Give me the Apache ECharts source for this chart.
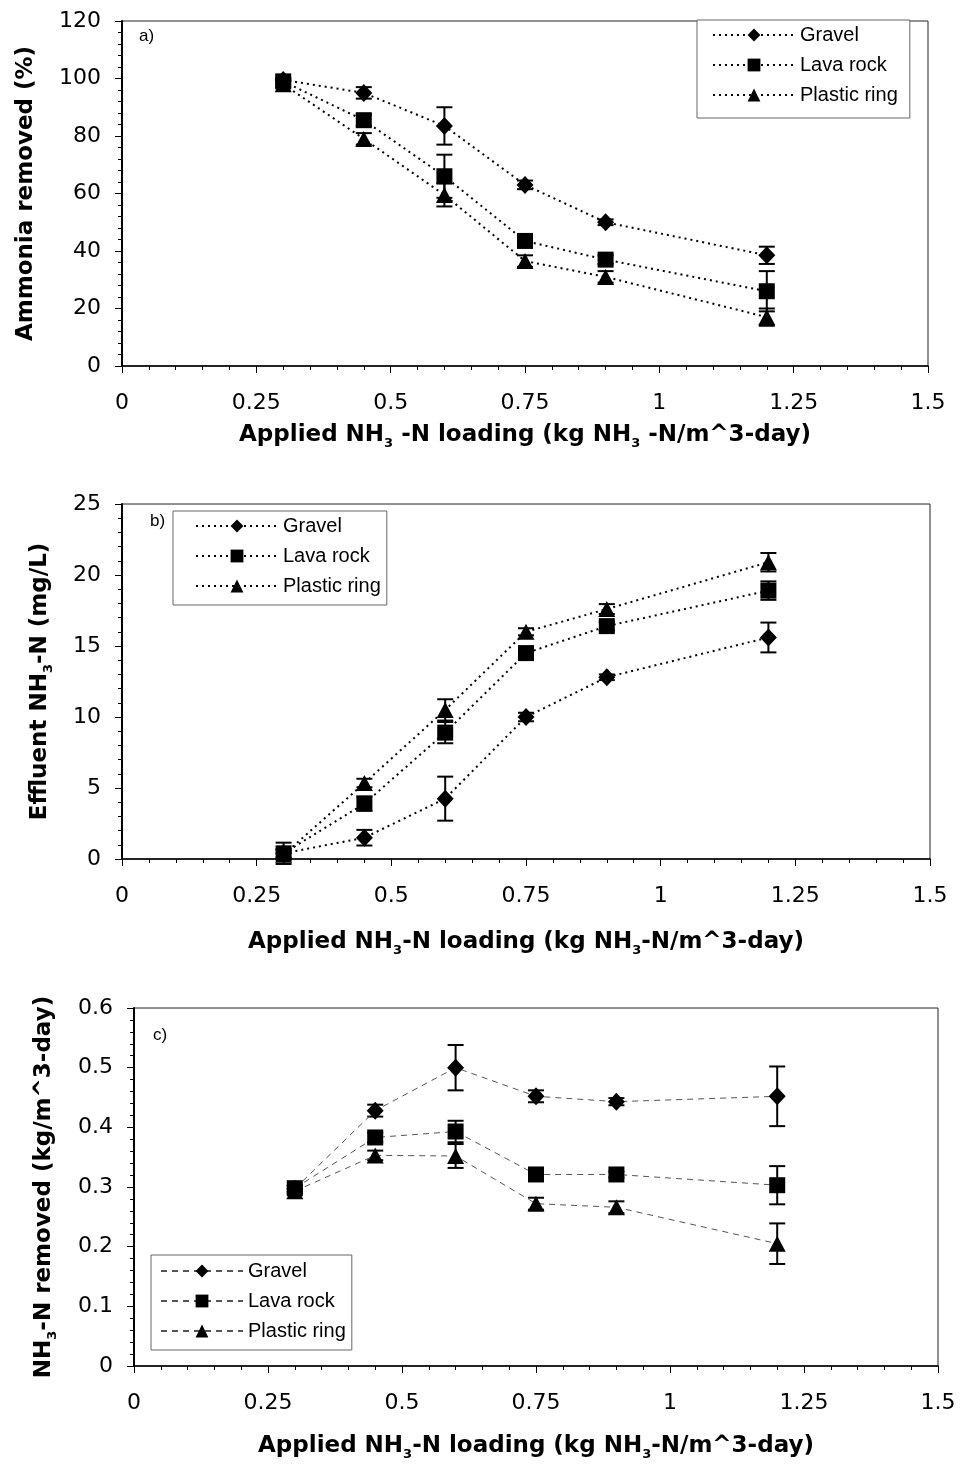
<!DOCTYPE html>
<html><head><meta charset="utf-8">
<script src="https://cdn.jsdelivr.net/npm/echarts@6/dist/echarts.min.js"></script>
<style>html,body{margin:0;padding:0;background:#fff}#c{width:962px;height:1466px}</style>
</head><body><div id="c"></div>
<script>
// ---------- data ----------
const loading = [0.3, 0.45, 0.6, 0.75, 0.9, 1.2];
const materials = ['Gravel', 'Lava rock', 'Plastic ring'];
const xTicks = [0, 0.25, 0.5, 0.75, 1, 1.25, 1.5];

// a) Ammonia removed (%)
const amRemGravel = [99.5, 95, 83.5, 63, 50, 38.5];
const amRemGravelErr = [0.5, 2, 6.5, 1.5, 1, 3];
const amRemLava = [99, 85.5, 66, 43.5, 37, 26];
const amRemLavaErr = [1, 2, 7.5, 1.5, 1.5, 7];
const amRemPlastic = [98, 79, 59.5, 36.5, 31, 17];
const amRemPlasticErr = [1, 2, 4, 2, 2, 3];

// b) Effluent NH3-N (mg/L)
const effGravel = [0.4, 1.5, 4.25, 10, 12.8, 15.6];
const effGravelErr = [0.3, 0.55, 1.55, 0.3, 0.2, 1.05];
const effLava = [0.4, 3.9, 8.9, 14.5, 16.4, 18.9];
const effLavaErr = [0.75, 0.5, 0.75, 0.3, 0.3, 0.65];
const effPlastic = [0.3, 5.35, 10.5, 16, 17.6, 20.9];
const effPlasticErr = [0.3, 0.3, 0.75, 0.25, 0.35, 0.65];

// c) NH3-N removed (kg/m^3-day)
const remGravel = [0.297, 0.428, 0.5, 0.452, 0.443, 0.452];
const remGravelErr = [0.005, 0.01, 0.038, 0.01, 0.006, 0.05];
const remLava = [0.298, 0.383, 0.393, 0.321, 0.321, 0.303];
const remLavaErr = [0.005, 0.008, 0.018, 0.005, 0.005, 0.032];
const remPlastic = [0.293, 0.353, 0.352, 0.272, 0.266, 0.205];
const remPlasticErr = [0.004, 0.008, 0.02, 0.01, 0.01, 0.034];

// ---------- layout / style ----------
const symbols = ['diamond', 'rect', 'triangle'];
const symSizes = [[17, 18], 16, [17, 16]];
const panels = [
  { key: 'a', label: 'a)', vals: [amRemGravel, amRemLava, amRemPlastic], errs: [amRemGravelErr, amRemLavaErr, amRemPlasticErr],
    grid: { left: 122, top: 21, width: 806, height: 345 }, yMax: 120, yInt: 20,
    yName: 'Ammonia removed (%)', yGap: 84,
    xName: 'Applied NH{s|3} -N loading (kg NH{s|3} -N/m^3-day)', xGap: 58,
    line: { type: [2, 4], width: 2, color: '#000' },
    legend: { left: 697, top: 20, padding: [4, 12, 12, 15] }, lab: [139, 28] },
  { key: 'b', label: 'b)', vals: [effGravel, effLava, effPlastic], errs: [effGravelErr, effLavaErr, effPlasticErr],
    grid: { left: 122, top: 504, width: 808, height: 355 }, yMax: 25, yInt: 5,
    yName: 'Effluent NH{s|3}-N (mg/L)', yGap: 70,
    xName: 'Applied NH{s|3}-N loading (kg NH{s|3}-N/m^3-day)', xGap: 72,
    line: { type: [2, 4], width: 2, color: '#000' },
    legend: { left: 173, top: 511, padding: [4, 6, 8, 22] }, lab: [150, 513] },
  { key: 'c', label: 'c)', vals: [remGravel, remLava, remPlastic], errs: [remGravelErr, remLavaErr, remPlasticErr],
    grid: { left: 134, top: 1008, width: 804, height: 358 }, yMax: 0.6, yInt: 0.1,
    yName: 'NH{s|3}-N removed (kg/m^3-day)', yGap: 78,
    xName: 'Applied NH{s|3}-N loading (kg NH{s|3}-N/m^3-day)', xGap: 69,
    line: { type: [6, 5], width: 1, color: '#555' },
    legend: { left: 151, top: 1255, padding: [5, 6, 8, 9] }, lab: [153, 1027] }
];

const tickFont = 'DejaVu Sans';
const titleStyle = {
  fontFamily: 'DejaVu Sans', fontWeight: 'bold', fontSize: 23, color: '#000',
  rich: { s: { fontFamily: 'DejaVu Sans', fontWeight: 'bold', fontSize: 13, verticalAlign: 'bottom', lineHeight: 13, padding: [0, 0, -3, 0] } }
};

function errRender(params, api) {
  const x = api.value(0), lo = api.value(1), hi = api.value(2);
  if (!(hi > lo)) return null;
  const p1 = api.coord([x, lo]), p2 = api.coord([x, hi]);
  const w = 8;
  const st = { stroke: '#000', lineWidth: 2, fill: null };
  return { type: 'group', children: [
    { type: 'line', shape: { x1: p1[0], y1: p1[1], x2: p2[0], y2: p2[1] }, style: st },
    { type: 'line', shape: { x1: p1[0] - w, y1: p1[1], x2: p1[0] + w, y2: p1[1] }, style: st },
    { type: 'line', shape: { x1: p2[0] - w, y1: p2[1], x2: p2[0] + w, y2: p2[1] }, style: st }
  ] };
}

const grids = [], xAxes = [], yAxes = [], series = [], legends = [], graphics = [];
panels.forEach((p, i) => {
  grids.push(Object.assign({ show: true, borderColor: '#222', borderWidth: 1, backgroundColor: '#fff', outerBoundsMode: 'none', containLabel: false }, p.grid));
  xAxes.push({
    type: 'value', gridIndex: i, min: xTicks[0], max: xTicks[xTicks.length - 1], interval: xTicks[1] - xTicks[0],
    name: p.xName, nameLocation: 'middle', nameGap: p.xGap, nameTextStyle: titleStyle,
    axisLine: { show: true, onZero: false, lineStyle: { color: '#000', width: 1.5 } },
    axisTick: { show: true, inside: false, length: 7, lineStyle: { color: '#000', width: 1 } },
    minorTick: { show: true, splitNumber: 5, length: 4, lineStyle: { color: '#000', width: 1 } },
    axisLabel: { margin: 26, fontSize: 22, color: '#000', fontFamily: tickFont },
    splitLine: { show: false }, minorSplitLine: { show: false }
  });
  yAxes.push({
    type: 'value', gridIndex: i, min: 0, max: p.yMax, interval: p.yInt,
    name: p.yName, nameLocation: 'middle', nameGap: p.yGap, nameRotate: 90, nameTextStyle: titleStyle,
    axisLine: { show: true, onZero: false, lineStyle: { color: '#000', width: 2 } },
    axisTick: { show: true, inside: false, length: 7, lineStyle: { color: '#000', width: 1 } },
    minorTick: { show: true, splitNumber: 5, length: 4, lineStyle: { color: '#000', width: 1 } },
    axisLabel: { margin: 21, fontSize: 22, color: '#000', fontFamily: tickFont },
    splitLine: { show: false }, minorSplitLine: { show: false }
  });
  const names = [];
  materials.forEach((m, k) => {
    const nm = p.key + '|' + m;
    names.push(nm);
    series.push({
      type: 'custom', xAxisIndex: i, yAxisIndex: i, renderItem: errRender, silent: true, z: 3,
      encode: { x: 0, y: [1, 2] },
      data: loading.map((x, j) => [x, p.vals[k][j] - p.errs[k][j], p.vals[k][j] + p.errs[k][j]])
    });
    series.push({
      type: 'line', name: nm, xAxisIndex: i, yAxisIndex: i, z: 4,
      data: loading.map((x, j) => [x, p.vals[k][j]]),
      symbol: symbols[k], symbolSize: symSizes[k], showSymbol: true,
      itemStyle: { color: '#000', borderWidth: 0 },
      lineStyle: p.line, animation: false
    });
  });
  legends.push({
    show: true, orient: 'vertical', left: p.legend.left, top: p.legend.top, padding: p.legend.padding,
    data: names, formatter: n => n.split('|')[1], selectedMode: false,
    itemWidth: 82, itemHeight: 16, itemGap: 8,
    borderColor: '#666', borderWidth: 1, backgroundColor: '#fff',
    textStyle: { fontFamily: 'Liberation Sans', fontSize: 20, color: '#000', lineHeight: 22 }
  });
  graphics.push({ type: 'text', left: p.lab[0], top: p.lab[1], z: 10,
    style: { text: p.label, font: '17px "Liberation Sans"', fill: '#000' } });
});

const chart = echarts.init(document.getElementById('c'), null, { renderer: 'canvas' });
chart.setOption({
  animation: false,
  backgroundColor: '#fff',
  grid: grids, xAxis: xAxes, yAxis: yAxes, series: series, legend: legends, graphic: graphics
});
</script></body></html>
